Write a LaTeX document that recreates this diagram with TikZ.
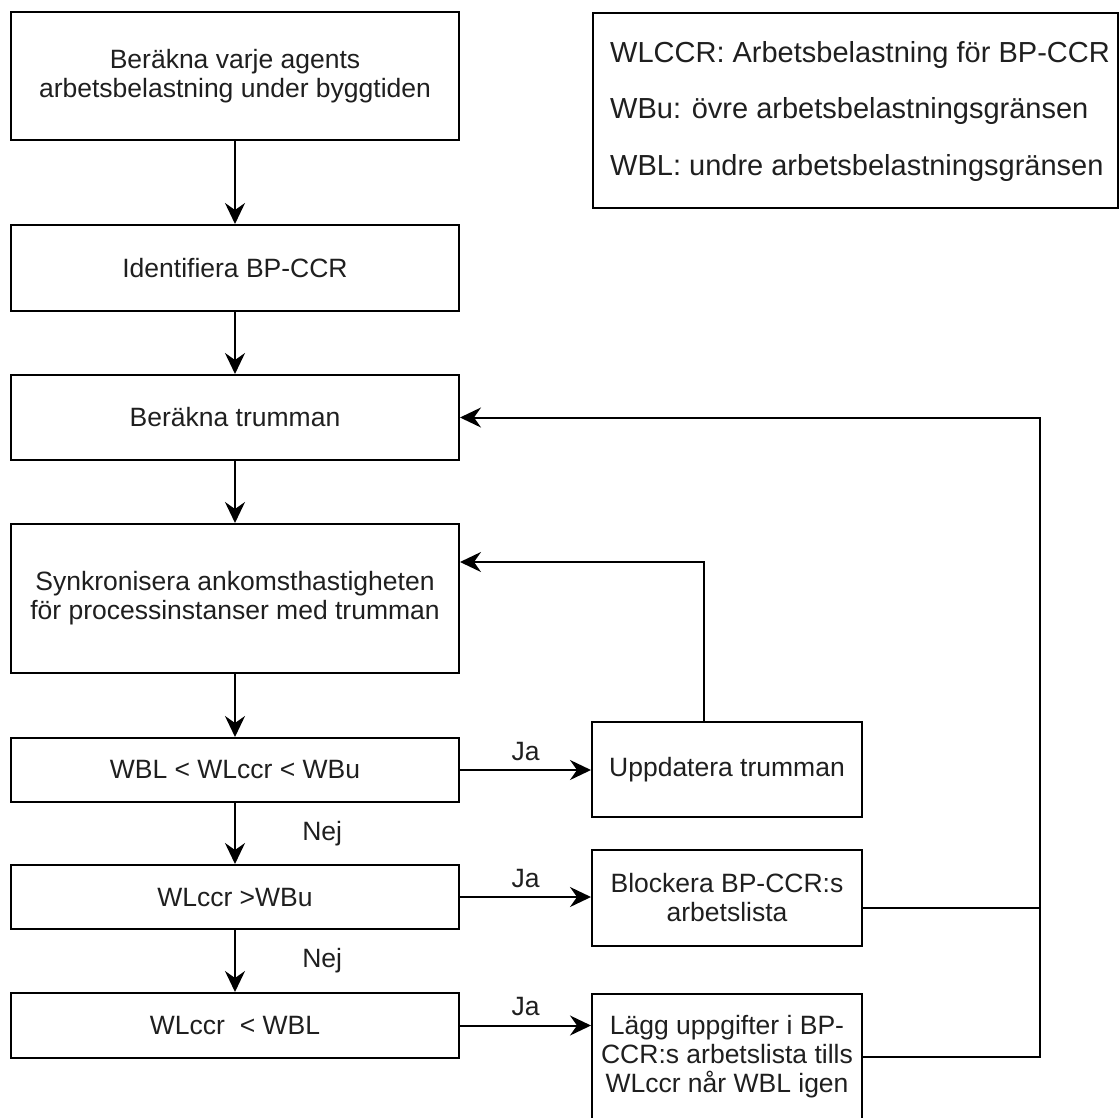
\documentclass[tikz,border=0pt]{standalone}
\usepackage{fontspec}
\setmainfont{Liberation Sans}
\usetikzlibrary{arrows.meta}
\begin{document}
\begin{tikzpicture}[x=1pt,y=-1pt,
  every node/.style={font=\fontsize{26.5}{29}\selectfont, text=black!88},
  stepbox/.style={draw=black, line width=2pt, fill=white, align=center,
    inner sep=2pt, minimum width=448pt},
  sidebox/.style={draw=black, line width=2pt, fill=white, align=center,
    inner sep=2pt, minimum width=270pt},
  flow/.style={draw=black, line width=2pt,
    -{Stealth[length=21pt, width=20pt, inset=7pt]}},
  plain/.style={draw=black, line width=2pt},
  legendtext/.style={font=\fontsize{29}{31}\selectfont, anchor=base west, inner sep=0pt}]

\useasboundingbox (0,0) rectangle (1119,1117);

% main column of steps
\node[stepbox, minimum height=128pt] (b1) at (235,76)
  {Beräkna varje agents\\arbetsbelastning under byggtiden};
\node[stepbox, minimum height=86pt] (b2) at (235,268) {Identifiera BP-CCR};
\node[stepbox, minimum height=85pt] (b3) at (235,417.5) {Beräkna trumman};
\node[stepbox, minimum height=149pt] (b4) at (235,598.5)
  {Synkronisera ankomsthastigheten\\för processinstanser med trumman};
\node[stepbox, minimum height=64pt] (b5) at (235,770) {WBL < WLccr < WBu};
\node[stepbox, minimum height=64pt] (b6) at (235,897) {WLccr >WBu};
\node[stepbox, minimum height=65pt] (b7) at (235,1025.5) {WLccr~ < WBL};

% actions taken on each test
\node[sidebox, minimum height=95pt] (up) at (727,769.5) {Uppdatera trumman};
\node[sidebox, minimum height=96pt] (bl) at (727,898) {Blockera BP-CCR:s\\arbetslista};
\node[sidebox, minimum height=126pt] (lg) at (727,1057)
  {Lägg uppgifter i BP-\\CCR:s arbetslista tills\\WLccr når WBL igen};

% legend
\node[draw=black, line width=2pt, minimum width=525pt, minimum height=195pt,
  anchor=north west, inner sep=0pt] (leg) at (592,12) {};
\node[legendtext] (l1) at (610,62) {WLCCR: Arbetsbelastning för BP-CCR};
\node[legendtext] (l2) at (610,118) {WBu: övre arbetsbelastningsgränsen};
\node[legendtext] (l3) at (610,175) {WBL: undre arbetsbelastningsgränsen};

% vertical flow
\draw[flow] (b1) -- (b2);
\draw[flow] (b2) -- (b3);
\draw[flow] (b3) -- (b4);
\draw[flow] (b4) -- (b5);
\draw[flow] (b5) -- node[right=63pt] (n1) {Nej} (b6);
\draw[flow] (b6) -- node[right=63pt] (n2) {Nej} (b7);

% yes branches
\draw[flow] (b5.east) -- node[above=5pt] (j1) {Ja} (b5.east -| up.west);
\draw[flow] (b6.east) -- node[above=5pt] (j2) {Ja} (b6.east -| bl.west);
\draw[flow] (b7.east) -- node[above=5pt] (j3) {Ja} (b7.east -| lg.west);

% feedback loops
\coordinate (rail) at (1040,0);
\coordinate (upout) at ([xshift=113pt]up.north west);
\coordinate (b4in) at ([yshift=36.5pt]b4.east);
\draw[flow] (upout) |- (b4in);

\coordinate (blout) at ([yshift=-10pt]bl.east);
\draw[flow] (blout) -- (blout -| rail) |- (b3.east);
\draw[plain] (lg.east) -- (lg.east -| rail) -- (blout -| rail);

\end{tikzpicture}
\end{document}
